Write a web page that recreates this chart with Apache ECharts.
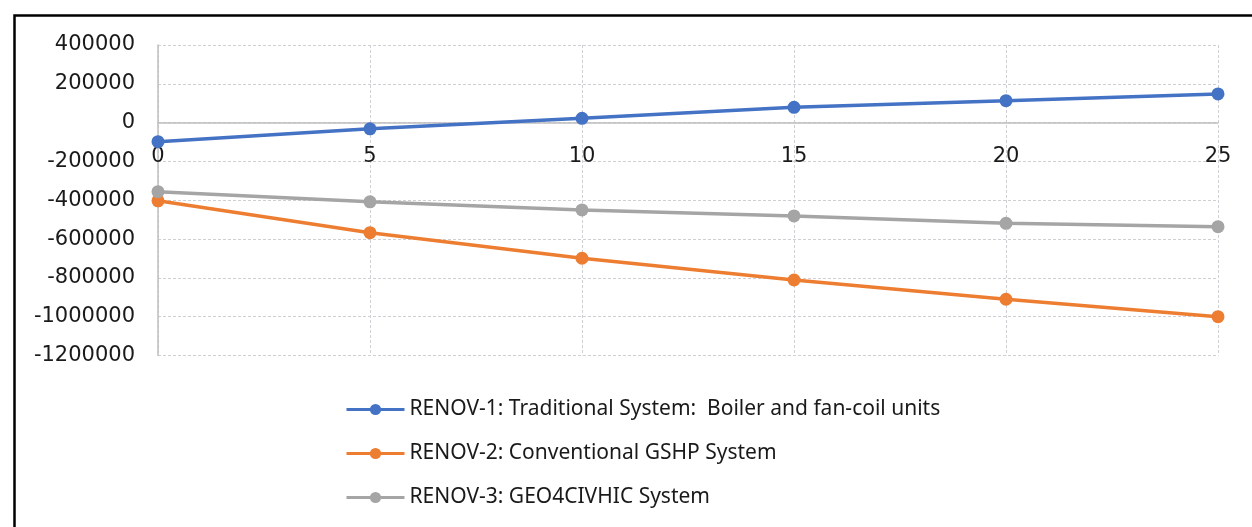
<!DOCTYPE html>
<html>
<head>
<meta charset="utf-8">
<script src="https://cdn.jsdelivr.net/npm/echarts@6/dist/echarts.min.js"></script>
<style>
html,body{margin:0;padding:0;background:#fff;}
#c{width:1252px;height:527px;}
</style>
</head>
<body>
<div id="c"></div>
<script>
const categories = ['0', '5', '10', '15', '20', '25'];
const seriesNames = [
  'RENOV-1: Traditional System:  Boiler and fan-coil units',
  'RENOV-2: Conventional GSHP System',
  'RENOV-3: GEO4CIVHIC System'
];
const renov1 = [-98000, -32000, 22000, 79000, 113000, 148000];
const renov2 = [-403000, -567000, -699000, -811000, -910000, -1000000];
const renov3 = [-356000, -408000, -450000, -481000, -519000, -536000];
const colors = ['#4472C4', '#ED7D31', '#A5A5A5'];

const chart = echarts.init(document.getElementById('c'));
const mk = (name, data, color) => ({
  name, type: 'line', data,
  symbol: 'circle', symbolSize: 13,
  lineStyle: {width: 3.5, color},
  itemStyle: {color},
  z: 5
});
chart.setOption({
  animation: false,
  backgroundColor: '#fff',
  graphic: [{
    type: 'rect', left: 12, top: 13,
    shape: {x: 0, y: 0, width: 1260, height: 540},
    style: {fill: 'none', stroke: '#000', lineWidth: 2.5},
    silent: true, z: 0
  }],
  grid: {left: 158, right: 34, top: 45, bottom: 171.5},
  legend: {
    orient: 'vertical', left: 340, top: 394,
    itemWidth: 58, itemHeight: 14, itemGap: 23,
    lineStyle: {width: 3},
    textStyle: {fontFamily: 'Noto Sans', fontSize: 21, lineHeight: 21, color: '#1a1a1a'},
    data: seriesNames
  },
  xAxis: {
    type: 'category', data: categories, boundaryGap: false,
    axisLine: {onZero: true, lineStyle: {color: '#bfbfbf', width: 1.5}},
    axisTick: {show: false},
    axisLabel: {margin: -209, fontFamily: 'DejaVu Sans', fontSize: 21, color: '#1a1a1a'},
    splitLine: {show: true, lineStyle: {color: '#cfcfd4', type: [3, 2], width: 1}}
  },
  yAxis: {
    type: 'value', min: -1200000, max: 400000, interval: 200000,
    axisLine: {show: true, lineStyle: {color: '#bfbfbf', width: 1.5}},
    axisTick: {show: false},
    axisLabel: {margin: 23, fontFamily: 'DejaVu Sans', fontSize: 21, color: '#1a1a1a',
      formatter: v => String(v)},
    splitLine: {show: true, lineStyle: {color: '#cfcfd4', type: [3, 2], width: 1}}
  },
  series: [
    mk(seriesNames[0], renov1, colors[0]),
    mk(seriesNames[1], renov2, colors[1]),
    mk(seriesNames[2], renov3, colors[2])
  ]
});
</script>
</body>
</html>
